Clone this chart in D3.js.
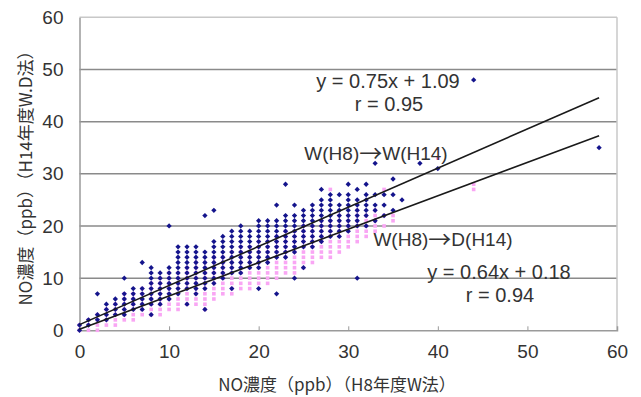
<!DOCTYPE html>
<html>
<head>
<meta charset="utf-8">
<script src="https://cdn.jsdelivr.net/npm/d3@7"></script>
<style>
  body { margin: 0; background: #fff; }
  svg text { fill: #333; }
  .num { font-family: "Liberation Sans", Arial, sans-serif; }
  .jp { font-family: "Noto Sans CJK JP", sans-serif; }
</style>
</head>
<body>
<div id="chart"></div>
<script>
// x value -> list of y values (ppb)
const blueCols = [
  [0, [0, 1]], [1, [1, 2]], [2, [2, 3, 7]], [3, [2, 3, 4, 5]], [4, [3, 4, 5, 6]],
  [5, [3, 4, 5, 6, 7, 10]], [6, [4, 5, 6, 7, 8]], [7, [4, 5, 6, 7, 8, 13]],
  [8, [3, 5, 6, 7, 8, 9, 10, 11, 12]], [9, [5, 6, 7, 8, 9, 10, 11]],
  [10, [6, 7, 8, 9, 10, 11, 12, 20]], [11, [7, 8, 9, 10, 11, 12, 13, 14, 15, 16]],
  [12, [5, 8, 9, 10, 11, 12, 13, 14, 15, 16]], [13, [7, 8, 9, 10, 11, 12, 13, 14, 15, 16]],
  [14, [4, 8, 9, 10, 11, 12, 13, 14, 15, 22]], [15, [9, 10, 11, 12, 13, 14, 15, 16, 17, 23]],
  [16, [10, 11, 12, 13, 14, 15, 16, 17, 18]], [17, [8, 11, 12, 13, 14, 15, 16, 17, 18, 19]],
  [18, [11, 12, 13, 14, 15, 16, 17, 18, 19, 20]], [19, [12, 13, 14, 15, 16, 17, 18, 19]],
  [20, [8, 12, 13, 14, 15, 16, 17, 18, 19, 20, 21]], [21, [13, 14, 15, 16, 17, 18, 19, 20, 21]],
  [22, [7, 14, 15, 16, 17, 18, 19, 20, 21, 24]], [23, [14, 15, 16, 17, 18, 19, 20, 21, 22, 28]],
  [24, [10, 15, 16, 17, 18, 19, 20, 21, 22, 24]], [25, [12, 16, 17, 18, 19, 20, 21, 22, 23]],
  [26, [16, 17, 18, 19, 20, 21, 22, 23, 24]], [27, [17, 18, 19, 20, 21, 22, 23, 24, 25, 27]],
  [28, [18, 19, 20, 21, 22, 23, 24, 25, 26]], [29, [18, 19, 20, 21, 22, 23, 24, 26]],
  [30, [19, 20, 21, 22, 23, 24, 25, 26, 28]], [31, [10, 20, 21, 22, 23, 24, 25, 27]],
  [32, [20, 22, 23, 24, 25, 26, 28]], [33, [21, 23, 24, 26, 32]], [34, [22, 24, 26]],
  [35, [23, 26, 29]], [36, [25]], [38, [32]], [40, [31]], [44, [48]], [58, [35]]
];
const pinkCols = [
  [0, [0, 1]], [1, [0, 1, 2]], [2, [0, 1, 2, 3]], [3, [1, 2, 3, 4]], [4, [1, 2, 3, 4, 5]],
  [5, [2, 3, 4, 5, 6, 7]], [6, [2, 3, 4, 5, 6, 7]], [7, [3, 4, 5, 6, 7, 8]],
  [8, [3, 4, 5, 6, 7, 8, 9]], [9, [3, 4, 5, 6, 7, 8, 9, 10]], [10, [4, 5, 6, 7, 8, 9, 10, 11]],
  [11, [4, 5, 6, 7, 8, 9, 10, 11]], [12, [5, 6, 7, 8, 9, 10, 11, 12]],
  [13, [5, 6, 7, 8, 9, 10, 11, 12, 13]], [14, [4, 5, 6, 7, 8, 9, 10, 11, 12, 13]],
  [15, [6, 7, 8, 9, 10, 11, 12, 13, 14]], [16, [7, 8, 9, 10, 11, 12, 13, 14]],
  [17, [7, 8, 9, 10, 11, 12, 13, 14, 15]], [18, [8, 9, 10, 11, 12, 13, 14, 15, 16]],
  [19, [8, 9, 10, 11, 12, 13, 14, 15, 16]], [20, [9, 10, 11, 12, 13, 14, 15, 16, 17]],
  [21, [9, 10, 11, 12, 13, 14, 15, 16, 17]], [22, [10, 11, 12, 13, 14, 15, 16, 17, 18]],
  [23, [11, 12, 13, 14, 15, 16, 17, 18, 19]], [24, [11, 12, 13, 14, 15, 16, 17, 18, 19]],
  [25, [12, 13, 14, 15, 16, 17, 18, 19, 20]], [26, [13, 14, 15, 16, 17, 18, 19, 20]],
  [27, [14, 15, 16, 17, 18, 19, 20, 21]], [28, [14, 15, 16, 17, 18, 19, 20, 21, 27]],
  [29, [15, 16, 17, 18, 19, 20, 21, 22]], [30, [16, 17, 18, 19, 20, 21, 22]],
  [31, [17, 18, 19, 20, 21, 22, 23]], [32, [18, 19, 20, 21, 22]], [33, [19, 20, 21, 22, 23]],
  [34, [20, 22, 27]], [35, [21, 22]], [40, [33]], [44, [27, 28]]
];
// regression lines: [slope, intercept]
const fitWW = [0.75, 1.09];
const fitWD = [0.64, 0.18];
const fitRange = [0, 58];
const ticks = [0, 10, 20, 30, 40, 50, 60];

const W = 641, H = 397;
const margin = { top: 17.3, right: 24, bottom: 66.7, left: 79.5 };

const svg = d3.select('#chart').append('svg')
  .attr('width', W).attr('height', H);

const x = d3.scaleLinear().domain([0, 60]).range([margin.left, W - margin.right]);
const y = d3.scaleLinear().domain([0, 60]).range([H - margin.bottom, margin.top]);

// gridlines
svg.append('g').selectAll('line')
  .data(ticks.filter(t => t > 0))
  .enter().append('line')
  .attr('x1', x(0)).attr('x2', x(60))
  .attr('y1', d => y(d)).attr('y2', d => y(d))
  .attr('stroke', d => d === 60 ? '#c8c8c8' : '#8a8a8a')
  .attr('stroke-width', 1.5);

// right border
svg.append('line')
  .attr('x1', x(60)).attr('x2', x(60)).attr('y1', y(60)).attr('y2', y(0))
  .attr('stroke', '#c8c8c8').attr('stroke-width', 1.5);

// axes
const xAxis = d3.axisBottom(x).tickValues(ticks).tickSize(-4).tickPadding(14).tickFormat(d3.format('d'));
const yAxis = d3.axisLeft(y).tickValues(ticks).tickSize(0).tickPadding(16).tickFormat(d3.format('d'));

const gx = svg.append('g').attr('transform', `translate(0,${y(0)})`).call(xAxis);
const gy = svg.append('g').attr('transform', `translate(${x(0)},0)`).call(yAxis);
[gx, gy].forEach(g => {
  g.select('.domain').attr('stroke', '#9a9a9a').attr('stroke-width', 1.5);
  g.selectAll('.tick line').attr('stroke', '#9a9a9a');
  g.selectAll('.tick text').attr('class', 'num').style('font-size', '19px').attr('fill', '#333');
});
gx.selectAll('.tick line').filter(d => d === 0 || d === 60).remove();

// points
const pinkPts = pinkCols.flatMap(([px, ys]) => ys.map(v => [px, v]));
const bluePts = blueCols.flatMap(([px, ys]) => ys.map(v => [px, v]));

svg.append('g').selectAll('rect')
  .data(pinkPts).enter().append('rect')
  .attr('x', d => x(d[0]) - 1.8).attr('y', d => y(d[1]) - 1.8)
  .attr('width', 3.6).attr('height', 3.6)
  .attr('fill', '#f9a6f4');

const diamond = d3.symbol(d3.symbolSquare, 14);
svg.append('g').selectAll('path')
  .data(bluePts).enter().append('path')
  .attr('d', diamond)
  .attr('transform', d => `translate(${x(d[0])},${y(d[1])}) rotate(45)`)
  .attr('fill', '#14148c');

// fit lines
const fitLine = f => d3.line()
  .x(d => x(d))
  .y(d => y(f[0] * d + f[1]));
[fitWW, fitWD].forEach(f => {
  svg.append('path').datum(fitRange)
    .attr('d', fitLine(f))
    .attr('fill', 'none').attr('stroke', '#1a1a1a').attr('stroke-width', 1.6);
});

// annotations
const note = (tx, ty, str) => svg.append('text')
  .attr('x', tx).attr('y', ty)
  .attr('text-anchor', 'middle').attr('dominant-baseline', 'central')
  .attr('class', 'num').style('font-size', '20px').text(str);

note(388, 81, 'y = 0.75x + 1.09');
note(389, 104, 'r = 0.95');
note(499, 272, 'y = 0.64x + 0.18');
note(500, 295, 'r = 0.94');

const arrowNote = (tx, ty, from, to) => {
  const t = svg.append('text')
    .attr('x', tx).attr('y', ty)
    .attr('text-anchor', 'middle').attr('dominant-baseline', 'central')
    .attr('class', 'num').style('font-size', '19px');
  t.append('tspan').text(from);
  t.append('tspan').attr('class', 'jp').style('font-size', '23px').attr('dy', -1).text('→');
  t.append('tspan').attr('dy', 1).text(to);
};
arrowNote(376, 153, 'W(H8)', 'W(H14)');
arrowNote(443, 239, 'W(H8)', 'D(H14)');

// axis titles
svg.append('text')
  .attr('x', 337).attr('y', 383)
  .attr('text-anchor', 'middle').attr('dominant-baseline', 'central')
  .attr('class', 'jp').style('font-size', '17px')
  .text('NO濃度（ppb）（H8年度W法）');

svg.append('text')
  .attr('transform', 'translate(24,174) rotate(-90)')
  .attr('text-anchor', 'middle').attr('dominant-baseline', 'central')
  .attr('class', 'jp').style('font-size', '17px')
  .text('NO濃度（ppb）（H14年度W.D法）');
</script>
</body>
</html>
